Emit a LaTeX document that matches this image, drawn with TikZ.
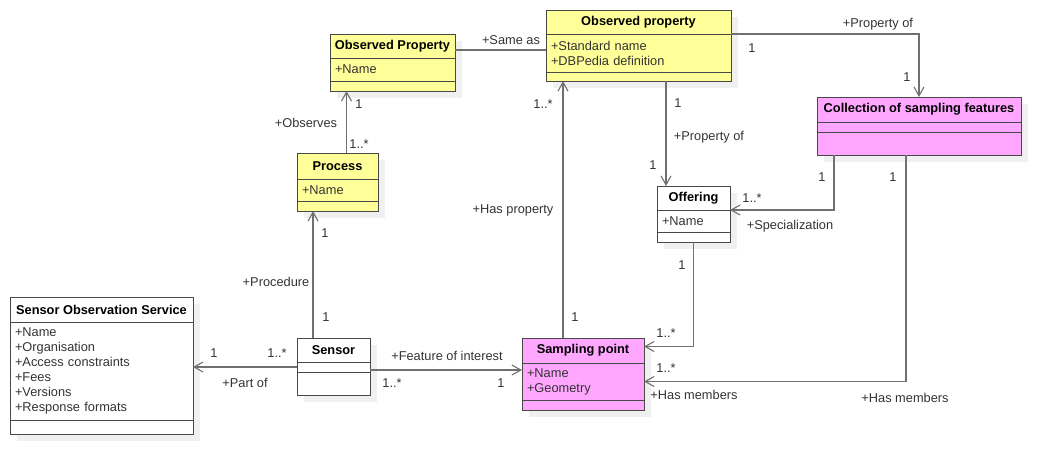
\documentclass[tikz,border=0pt]{standalone}
\usepackage{fontspec}
\setmainfont{Liberation Sans}
\usetikzlibrary{positioning,arrows.meta,shadows}

\definecolor{umlyellow}{RGB}{255,255,153}
\definecolor{umlpink}{RGB}{255,166,255}
\definecolor{boxline}{RGB}{72,72,72}
\definecolor{assocline}{RGB}{112,112,112}
\definecolor{shade}{RGB}{240,240,240}
\definecolor{roletext}{RGB}{51,51,51}

\begin{document}
\begin{tikzpicture}
    [
        x=1pt, y=-1pt,
        every node/.style={font=\fontsize{12.8}{15}\selectfont},
        part/.style={draw=boxline, line width=1pt, inner sep=0pt, outer sep=0pt,
            drop shadow={shadow xshift=7pt, shadow yshift=-7pt, fill=shade, opacity=1}},
        title/.style={part, font=\fontsize{12.8}{15}\selectfont\bfseries, anchor=north west},
        attrs/.style={part, align=left, inner xsep=5pt, text=roletext},
        link/.style={draw=assocline, line width=1.1pt},
        assoc/.style={link, -{Straight Barb[length=9pt, width=10pt, line width=1.1pt]}},
        role/.style={text=roletext, inner sep=1pt},
    ]

    \useasboundingbox (0,0) rectangle (1060,474);

    % classes
    \node (opl) at (330,34) [title, fill=umlyellow, minimum width=125pt, minimum height=24pt] {Observed Property};
    \node (opl-a) [attrs, fill=umlyellow, below=0pt of opl, text width=115pt, minimum height=23pt] {+Name};
    \node (opl-o) [attrs, fill=umlyellow, below=0pt of opl-a, text width=115pt, minimum height=10pt] {};

    \node (opr) at (546,10) [title, fill=umlyellow, minimum width=185pt, minimum height=24pt] {Observed property};
    \node (opr-a) [attrs, fill=umlyellow, below=0pt of opr, text width=175pt, minimum height=38pt] {+Standard name\\+DBPedia definition};
    \node (opr-o) [attrs, fill=umlyellow, below=0pt of opr-a, text width=175pt, minimum height=9pt] {};

    \node (coll) at (817,97) [title, fill=umlpink, minimum width=204pt, minimum height=25pt] {Collection of sampling features};
    \node (coll-a) [attrs, fill=umlpink, below=0pt of coll, text width=194pt, minimum height=10pt] {};
    \node (coll-o) [attrs, fill=umlpink, below=0pt of coll-a, text width=194pt, minimum height=23pt] {};

    \node (proc) at (297,153) [title, fill=umlyellow, minimum width=81pt, minimum height=26pt] {Process};
    \node (proc-a) [attrs, fill=umlyellow, below=0pt of proc, text width=71pt, minimum height=22pt] {+Name};
    \node (proc-o) [attrs, fill=umlyellow, below=0pt of proc-a, text width=71pt, minimum height=10pt] {};

    \node (off) at (657,186) [title, fill=white, minimum width=73pt, minimum height=24pt] {Offering};
    \node (off-a) [attrs, fill=white, below=0pt of off, text width=63pt, minimum height=22pt] {+Name};
    \node (off-o) [attrs, fill=white, below=0pt of off-a, text width=63pt, minimum height=10pt] {};

    \node (sos) at (10,297) [title, fill=white, minimum width=183pt, minimum height=25pt] {Sensor Observation Service};
    \node (sos-a) [attrs, fill=white, below=0pt of sos, text width=173pt, minimum height=98pt]
        {+Name\\+Organisation\\+Access constraints\\+Fees\\+Versions\\+Response formats};
    \node (sos-o) [attrs, fill=white, below=0pt of sos-a, text width=173pt, minimum height=14pt] {};

    \node (sen) at (297,338) [title, fill=white, minimum width=73pt, minimum height=24pt] {Sensor};
    \node (sen-a) [attrs, fill=white, below=0pt of sen, text width=63pt, minimum height=10pt] {};
    \node (sen-o) [attrs, fill=white, below=0pt of sen-a, text width=63pt, minimum height=23pt] {};

    \node (sp) at (522,338) [title, fill=umlpink, minimum width=122pt, minimum height=25pt] {Sampling point};
    \node (sp-a) [attrs, fill=umlpink, below=0pt of sp, text width=112pt, minimum height=37pt] {+Name\\+Geometry};
    \node (sp-o) [attrs, fill=umlpink, below=0pt of sp-a, text width=112pt, minimum height=10pt] {};

    % connector ends
    \coordinate (sameas) at ([yshift=-4pt]opl.east);
    \coordinate (off-in) at ([xshift=9pt]off.north west);
    \coordinate (proc-out) at ([xshift=9pt]proc.north);
    \coordinate (sen-up) at ([xshift=16pt]sen.north west);
    \coordinate (sen-out) at ([yshift=-3pt]sen-a.east);
    \coordinate (sp-up) at ([xshift=41pt]sp.north west);
    \coordinate (coll-spec) at ([xshift=17pt]coll-o.south west);
    \coordinate (coll-mem) at ([xshift=89pt]coll-o.south west);

    % associations
    \draw [link] (sameas) -- (sameas -| opr-a.west);
    \draw [assoc] (opr.south east) -| (coll.north);
    \draw [assoc] (opr-o.south -| off-in) -- (off-in);
    \draw [assoc] (proc-out) -- (proc-out |- opl-o.south);
    \draw [assoc] (sen-up) -- (sen-up |- proc-o.south);
    \draw [assoc] (sen-a.west) -- (sen-a.west -| sos-a.east);
    \draw [assoc] (sen-out) -- (sen-out -| sp-a.west);
    \draw [assoc] (sp-up) -- (sp-up |- opr-o.south);
    \draw [assoc] (coll-spec) |- (off.south east);
    \draw [assoc] (off-o.south) |- ([yshift=4pt]sp.east);
    \draw [assoc] (coll-mem) |- (sp-a.east);

    % roles and multiplicities
    \node (sameas-r) at (511,40) [role] {+Same as};
    \node (propcoll-r) at (878,24) [role] {+Property of};
    \node (propcoll-m1) at (752,48) [role] {1};
    \node (propcoll-m2) at (907,77) [role] {1};
    \node (propoff-m1) at (678,103) [role] {1};
    \node (propoff-r) at (709,137) [role] {+Property of};
    \node (propoff-m2) at (653,165) [role] {1};
    \node (obs-m1) at (359,104) [role] {1};
    \node (obs-r) at (306,123) [role] {+Observes};
    \node (obs-m2) at (359,144) [role] {1..*};
    \node (procd-m1) at (325,233) [role] {1};
    \node (procd-r) at (276,282) [role] {+Procedure};
    \node (procd-m2) at (326,317) [role] {1};
    \node (partof-m1) at (214,353) [role] {1};
    \node (partof-m2) at (277,353) [role] {1..*};
    \node (partof-r) at (245,383) [role] {+Part of};
    \node (foi-r) at (447,356) [role] {+Feature of interest};
    \node (foi-m1) at (392,383) [role] {1..*};
    \node (foi-m2) at (501,383) [role] {1};
    \node (hasprop-m1) at (543,104) [role] {1..*};
    \node (hasprop-r) at (513,210) [role] {+Has property};
    \node (hasprop-m2) at (575,317) [role] {1};
    \node (spec-m1) at (822,177) [role] {1};
    \node (spec-m2) at (752,198) [role] {1..*};
    \node (spec-r) at (790,226) [role] {+Specialization};
    \node (offsp-m1) at (682,265) [role] {1};
    \node (offsp-m2) at (666,333) [role] {1..*};
    \node (mem-m1) at (893,177) [role] {1};
    \node (mem-m2) at (666,368) [role] {1..*};
    \node (mem-r1) at (694,395) [role] {+Has members};
    \node (mem-r2) at (905,398) [role] {+Has members};

\end{tikzpicture}
\end{document}
